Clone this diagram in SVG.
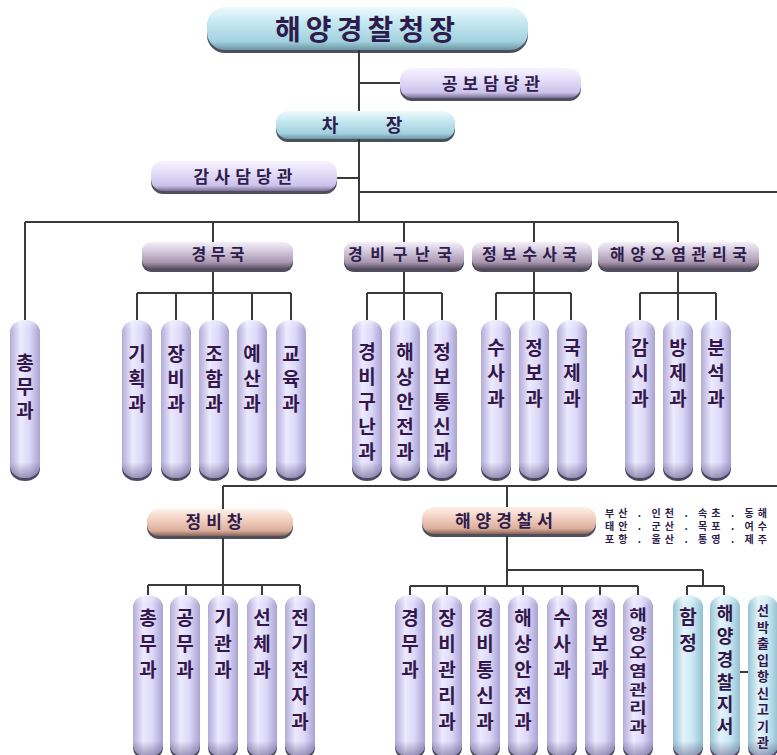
<svg xmlns="http://www.w3.org/2000/svg" width="777" height="755" viewBox="0 0 777 755">
<style>
text{font-family:"Noto Sans CJK KR","Noto Sans",sans-serif;font-weight:bold;fill:#2e1c4c}
.h{text-anchor:middle}
.c{font-size:19px;text-anchor:middle;fill:#33164a}
.sh{fill:#2f3040;opacity:.85}
.csh{fill:#3a3252;opacity:.9}
.ln{stroke:#3a3a3a;stroke-width:2;fill:none}
.cyan{fill:url(#gCyan)}
.lav{fill:url(#gLav)}
.bur{fill:url(#gBur)}
.org{fill:url(#gOr)}
.col{fill:url(#gCol)}
.colb{fill:url(#gColB)}
.shade{fill:url(#gShade)}
</style>
<defs>
<linearGradient id="gCyan" x1="0" y1="0" x2="0" y2="1">
<stop offset="0" stop-color="#eefafd"/><stop offset=".35" stop-color="#c6e8f1"/><stop offset=".8" stop-color="#a2d1df"/><stop offset="1" stop-color="#6c95a2"/>
</linearGradient>
<linearGradient id="gLav" x1="0" y1="0" x2="0" y2="1">
<stop offset="0" stop-color="#f7f4ff"/><stop offset=".4" stop-color="#e3ddf8"/><stop offset=".82" stop-color="#cbc2ea"/><stop offset="1" stop-color="#7a7098"/>
</linearGradient>
<linearGradient id="gBur" x1="0" y1="0" x2="0" y2="1">
<stop offset="0" stop-color="#f4eff7"/><stop offset=".3" stop-color="#d8cde0"/><stop offset=".75" stop-color="#a898b0"/><stop offset="1" stop-color="#5a4c60"/>
</linearGradient>
<linearGradient id="gOr" x1="0" y1="0" x2="0" y2="1">
<stop offset="0" stop-color="#fdf1ea"/><stop offset=".35" stop-color="#f4d4c5"/><stop offset=".8" stop-color="#dbae9c"/><stop offset="1" stop-color="#8a6458"/>
</linearGradient>
<linearGradient id="gCol" x1="0" y1="0" x2="1" y2="0">
<stop offset="0" stop-color="#b3abd8"/><stop offset=".35" stop-color="#eceaff"/><stop offset=".65" stop-color="#dcd8f7"/><stop offset="1" stop-color="#aaa2d2"/>
</linearGradient>
<linearGradient id="gColB" x1="0" y1="0" x2="1" y2="0">
<stop offset="0" stop-color="#96c4d4"/><stop offset=".35" stop-color="#e2f4fb"/><stop offset=".65" stop-color="#cbe8f3"/><stop offset="1" stop-color="#94c0d0"/>
</linearGradient>
<linearGradient id="gShade" x1="0" y1="0" x2="0" y2="1">
<stop offset="0" stop-color="#ffffff" stop-opacity=".35"/><stop offset=".06" stop-color="#ffffff" stop-opacity="0"/><stop offset=".9" stop-color="#3a3060" stop-opacity="0"/><stop offset="1" stop-color="#3a3060" stop-opacity=".45"/>
</linearGradient>
</defs>

<g id="connectors">
<path class="ln" d="M359 50V222M359 83H400M337 178H359M359 192H777M25 222H678"/>
<path class="ln" d="M25 222V320M213 222V242M404 222V242M534 222V242M678 222V242"/>
<path class="ln" d="M213 272V320M137 293H291M137 293V320M176 293V320M252 293V320M291 293V320"/>
<path class="ln" d="M404 272V320M367 293H442M367 293V320M442 293V320"/>
<path class="ln" d="M534 272V320M496 293H571M496 293V320M571 293V320"/>
<path class="ln" d="M678 272V320M640 293H716M640 293V320M716 293V320"/>
<path class="ln" d="M223 486H777M223 486V509M507 486V507"/>
<path class="ln" d="M223 538V595M148 585H300M148 585V595M186 585V595M262 585V595M300 585V595"/>
<path class="ln" d="M507 536V586M507 570H703M703 570V586M410 586H638M410 586V595M447 586V595M485 586V595M523 586V595M562 586V595M600 586V595M638 586V595"/>
<path class="ln" d="M687 586H724M687 586V595M724 586V595M740 672H748"/>
</g>

<g id="n-chief"><rect class="sh" x="207" y="10" width="321" height="43" rx="18"/><rect class="cyan" x="207" y="7" width="321" height="43" rx="18"/>
<text class="h" x="365" y="40" font-size="28" textLength="180" lengthAdjust="spacing" fill="#2c2a5c">해양경찰청장</text></g>
<g id="n-pr"><rect class="sh" x="400" y="71" width="181" height="30" rx="12"/><rect class="lav" x="400" y="68" width="181" height="30" rx="12"/>
<text class="h" x="491" y="89.5" font-size="17" textLength="98" lengthAdjust="spacing">공보담당관</text></g>
<g id="n-deputy"><rect class="sh" x="276" y="114" width="179" height="28" rx="12"/><rect class="cyan" x="276" y="111" width="179" height="28" rx="12"/>
<text class="h" font-size="18" y="132"><tspan x="330">차</tspan><tspan x="394">장</tspan></text></g>
<g id="n-audit"><rect class="sh" x="151" y="164" width="186" height="30" rx="12"/><rect class="lav" x="151" y="161" width="186" height="30" rx="12"/>
<text class="h" x="243" y="183" font-size="17" textLength="99" lengthAdjust="spacing">감사담당관</text></g>

<g id="n-gyeongmu"><rect class="sh" x="142" y="245" width="151" height="27" rx="9"/><rect class="bur" x="142" y="242" width="151" height="27" rx="9"/>
<text class="h" x="218" y="260" font-size="16" textLength="53" lengthAdjust="spacing">경무국</text></g>
<g id="n-rescue"><rect class="sh" x="344" y="245" width="120" height="27" rx="9"/><rect class="bur" x="344" y="242" width="120" height="27" rx="9"/>
<text class="h" x="400" y="260" font-size="16" textLength="104" lengthAdjust="spacing">경비구난국</text></g>
<g id="n-intel"><rect class="sh" x="472" y="245" width="120" height="27" rx="9"/><rect class="bur" x="472" y="242" width="120" height="27" rx="9"/>
<text class="h" x="529.5" y="260" font-size="16" textLength="95" lengthAdjust="spacing">정보수사국</text></g>
<g id="n-pollution"><rect class="sh" x="598" y="245" width="161" height="27" rx="9"/><rect class="bur" x="598" y="242" width="161" height="27" rx="9"/>
<text class="h" x="678.5" y="260" font-size="16" textLength="137" lengthAdjust="spacing">해양오염관리국</text></g>

<g id="n-chongmu"><rect class="csh" x="10" y="323" width="30" height="158" rx="15" ry="12"/><rect class="col" x="10" y="320" width="30" height="158" rx="15" ry="12"/><rect class="shade" x="10" y="320" width="30" height="158" rx="15" ry="12"/>
<text class="c"><tspan x="25" y="370">총</tspan><tspan x="25" y="394">무</tspan><tspan x="25" y="418">과</tspan></text></g>

<g id="n-gihoek"><rect class="csh" x="122" y="323" width="30" height="158" rx="15" ry="12"/><rect class="col" x="122" y="320" width="30" height="158" rx="15" ry="12"/><rect class="shade" x="122" y="320" width="30" height="158" rx="15" ry="12"/>
<text class="c"><tspan x="137" y="361">기</tspan><tspan x="137" y="386">획</tspan><tspan x="137" y="411">과</tspan></text></g>
<g id="n-jangbi"><rect class="csh" x="161" y="323" width="30" height="158" rx="15" ry="12"/><rect class="col" x="161" y="320" width="30" height="158" rx="15" ry="12"/><rect class="shade" x="161" y="320" width="30" height="158" rx="15" ry="12"/>
<text class="c"><tspan x="176" y="361">장</tspan><tspan x="176" y="386">비</tspan><tspan x="176" y="411">과</tspan></text></g>
<g id="n-joham"><rect class="csh" x="199" y="323" width="30" height="158" rx="15" ry="12"/><rect class="col" x="199" y="320" width="30" height="158" rx="15" ry="12"/><rect class="shade" x="199" y="320" width="30" height="158" rx="15" ry="12"/>
<text class="c"><tspan x="214" y="361">조</tspan><tspan x="214" y="386">함</tspan><tspan x="214" y="411">과</tspan></text></g>
<g id="n-yesan"><rect class="csh" x="237" y="323" width="30" height="158" rx="15" ry="12"/><rect class="col" x="237" y="320" width="30" height="158" rx="15" ry="12"/><rect class="shade" x="237" y="320" width="30" height="158" rx="15" ry="12"/>
<text class="c"><tspan x="252" y="361">예</tspan><tspan x="252" y="386">산</tspan><tspan x="252" y="411">과</tspan></text></g>
<g id="n-gyoyuk"><rect class="csh" x="276" y="323" width="30" height="158" rx="15" ry="12"/><rect class="col" x="276" y="320" width="30" height="158" rx="15" ry="12"/><rect class="shade" x="276" y="320" width="30" height="158" rx="15" ry="12"/>
<text class="c"><tspan x="291" y="361">교</tspan><tspan x="291" y="386">육</tspan><tspan x="291" y="411">과</tspan></text></g>

<g id="n-gbgn"><rect class="csh" x="352" y="323" width="30" height="158" rx="15" ry="12"/><rect class="col" x="352" y="320" width="30" height="158" rx="15" ry="12"/><rect class="shade" x="352" y="320" width="30" height="158" rx="15" ry="12"/>
<text class="c"><tspan x="367" y="359">경</tspan><tspan x="367" y="384">비</tspan><tspan x="367" y="409">구</tspan><tspan x="367" y="434">난</tspan><tspan x="367" y="459">과</tspan></text></g>
<g id="n-hsaj"><rect class="csh" x="390" y="323" width="30" height="158" rx="15" ry="12"/><rect class="col" x="390" y="320" width="30" height="158" rx="15" ry="12"/><rect class="shade" x="390" y="320" width="30" height="158" rx="15" ry="12"/>
<text class="c"><tspan x="405" y="359">해</tspan><tspan x="405" y="384">상</tspan><tspan x="405" y="409">안</tspan><tspan x="405" y="434">전</tspan><tspan x="405" y="459">과</tspan></text></g>
<g id="n-jbts"><rect class="csh" x="427" y="323" width="30" height="158" rx="15" ry="12"/><rect class="col" x="427" y="320" width="30" height="158" rx="15" ry="12"/><rect class="shade" x="427" y="320" width="30" height="158" rx="15" ry="12"/>
<text class="c"><tspan x="442" y="359">정</tspan><tspan x="442" y="384">보</tspan><tspan x="442" y="409">통</tspan><tspan x="442" y="434">신</tspan><tspan x="442" y="459">과</tspan></text></g>

<g id="n-susa"><rect class="csh" x="481" y="323" width="30" height="158" rx="15" ry="12"/><rect class="col" x="481" y="320" width="30" height="158" rx="15" ry="12"/><rect class="shade" x="481" y="320" width="30" height="158" rx="15" ry="12"/>
<text class="c"><tspan x="496" y="355">수</tspan><tspan x="496" y="380">사</tspan><tspan x="496" y="406">과</tspan></text></g>
<g id="n-jeongbo"><rect class="csh" x="519" y="323" width="30" height="158" rx="15" ry="12"/><rect class="col" x="519" y="320" width="30" height="158" rx="15" ry="12"/><rect class="shade" x="519" y="320" width="30" height="158" rx="15" ry="12"/>
<text class="c"><tspan x="534" y="355">정</tspan><tspan x="534" y="380">보</tspan><tspan x="534" y="406">과</tspan></text></g>
<g id="n-gukje"><rect class="csh" x="557" y="323" width="30" height="158" rx="15" ry="12"/><rect class="col" x="557" y="320" width="30" height="158" rx="15" ry="12"/><rect class="shade" x="557" y="320" width="30" height="158" rx="15" ry="12"/>
<text class="c"><tspan x="572" y="355">국</tspan><tspan x="572" y="380">제</tspan><tspan x="572" y="406">과</tspan></text></g>

<g id="n-gamsi"><rect class="csh" x="625" y="323" width="30" height="158" rx="15" ry="12"/><rect class="col" x="625" y="320" width="30" height="158" rx="15" ry="12"/><rect class="shade" x="625" y="320" width="30" height="158" rx="15" ry="12"/>
<text class="c"><tspan x="640" y="355">감</tspan><tspan x="640" y="380">시</tspan><tspan x="640" y="406">과</tspan></text></g>
<g id="n-bangje"><rect class="csh" x="663" y="323" width="30" height="158" rx="15" ry="12"/><rect class="col" x="663" y="320" width="30" height="158" rx="15" ry="12"/><rect class="shade" x="663" y="320" width="30" height="158" rx="15" ry="12"/>
<text class="c"><tspan x="678" y="355">방</tspan><tspan x="678" y="380">제</tspan><tspan x="678" y="406">과</tspan></text></g>
<g id="n-bunseok"><rect class="csh" x="701" y="323" width="30" height="158" rx="15" ry="12"/><rect class="col" x="701" y="320" width="30" height="158" rx="15" ry="12"/><rect class="shade" x="701" y="320" width="30" height="158" rx="15" ry="12"/>
<text class="c"><tspan x="716" y="355">분</tspan><tspan x="716" y="380">석</tspan><tspan x="716" y="406">과</tspan></text></g>

<g id="n-depot"><rect class="sh" x="147" y="512" width="146" height="27" rx="12"/><rect class="org" x="147" y="509" width="146" height="27" rx="12"/>
<text class="h" x="214" y="528" font-size="17" textLength="57" lengthAdjust="spacing">정비창</text></g>
<g id="n-station"><rect class="sh" x="422" y="510" width="174" height="27" rx="12"/><rect class="org" x="422" y="507" width="174" height="27" rx="12"/>
<text class="h" x="504" y="527" font-size="17" textLength="98" lengthAdjust="spacing">해양경찰서</text></g>
<g id="cities" font-size="10">
<text x="605" y="517" textLength="162" lengthAdjust="spacing">부산 . 인천 . 속초 . 동해</text>
<text x="605" y="530" textLength="162" lengthAdjust="spacing">태안 . 군산 . 목포 . 여수</text>
<text x="605" y="543" textLength="162" lengthAdjust="spacing">포항 . 울산 . 통영 . 제주</text>
</g>

<g id="n-d-chongmu"><rect class="csh" x="133" y="598" width="30" height="162" rx="15" ry="12"/><rect class="col" x="133" y="595" width="30" height="162" rx="15" ry="12"/><rect class="shade" x="133" y="595" width="30" height="162" rx="15" ry="12"/>
<text class="c"><tspan x="148" y="625">총</tspan><tspan x="148" y="651">무</tspan><tspan x="148" y="677">과</tspan></text></g>
<g id="n-d-gongmu"><rect class="csh" x="170" y="598" width="30" height="162" rx="15" ry="12"/><rect class="col" x="170" y="595" width="30" height="162" rx="15" ry="12"/><rect class="shade" x="170" y="595" width="30" height="162" rx="15" ry="12"/>
<text class="c"><tspan x="185" y="625">공</tspan><tspan x="185" y="651">무</tspan><tspan x="185" y="677">과</tspan></text></g>
<g id="n-d-gigwan"><rect class="csh" x="208" y="598" width="30" height="162" rx="15" ry="12"/><rect class="col" x="208" y="595" width="30" height="162" rx="15" ry="12"/><rect class="shade" x="208" y="595" width="30" height="162" rx="15" ry="12"/>
<text class="c"><tspan x="223" y="625">기</tspan><tspan x="223" y="651">관</tspan><tspan x="223" y="677">과</tspan></text></g>
<g id="n-d-seonche"><rect class="csh" x="247" y="598" width="30" height="162" rx="15" ry="12"/><rect class="col" x="247" y="595" width="30" height="162" rx="15" ry="12"/><rect class="shade" x="247" y="595" width="30" height="162" rx="15" ry="12"/>
<text class="c"><tspan x="262" y="625">선</tspan><tspan x="262" y="651">체</tspan><tspan x="262" y="677">과</tspan></text></g>
<g id="n-d-elec"><rect class="csh" x="285" y="598" width="30" height="162" rx="15" ry="12"/><rect class="col" x="285" y="595" width="30" height="162" rx="15" ry="12"/><rect class="shade" x="285" y="595" width="30" height="162" rx="15" ry="12"/>
<text class="c"><tspan x="300" y="625">전</tspan><tspan x="300" y="651">기</tspan><tspan x="300" y="677">전</tspan><tspan x="300" y="703">자</tspan><tspan x="300" y="729">과</tspan></text></g>

<g id="n-s-gyeongmu"><rect class="csh" x="395" y="598" width="30" height="162" rx="15" ry="12"/><rect class="col" x="395" y="595" width="30" height="162" rx="15" ry="12"/><rect class="shade" x="395" y="595" width="30" height="162" rx="15" ry="12"/>
<text class="c"><tspan x="410" y="625">경</tspan><tspan x="410" y="651">무</tspan><tspan x="410" y="677">과</tspan></text></g>
<g id="n-s-jangbi"><rect class="csh" x="432" y="598" width="30" height="162" rx="15" ry="12"/><rect class="col" x="432" y="595" width="30" height="162" rx="15" ry="12"/><rect class="shade" x="432" y="595" width="30" height="162" rx="15" ry="12"/>
<text class="c"><tspan x="447" y="625">장</tspan><tspan x="447" y="651">비</tspan><tspan x="447" y="677">관</tspan><tspan x="447" y="703">리</tspan><tspan x="447" y="729">과</tspan></text></g>
<g id="n-s-gbts"><rect class="csh" x="470" y="598" width="30" height="162" rx="15" ry="12"/><rect class="col" x="470" y="595" width="30" height="162" rx="15" ry="12"/><rect class="shade" x="470" y="595" width="30" height="162" rx="15" ry="12"/>
<text class="c"><tspan x="485" y="625">경</tspan><tspan x="485" y="651">비</tspan><tspan x="485" y="677">통</tspan><tspan x="485" y="703">신</tspan><tspan x="485" y="729">과</tspan></text></g>
<g id="n-s-hsaj"><rect class="csh" x="508" y="598" width="30" height="162" rx="15" ry="12"/><rect class="col" x="508" y="595" width="30" height="162" rx="15" ry="12"/><rect class="shade" x="508" y="595" width="30" height="162" rx="15" ry="12"/>
<text class="c"><tspan x="523" y="625">해</tspan><tspan x="523" y="651">상</tspan><tspan x="523" y="677">안</tspan><tspan x="523" y="703">전</tspan><tspan x="523" y="729">과</tspan></text></g>
<g id="n-s-susa"><rect class="csh" x="547" y="598" width="30" height="162" rx="15" ry="12"/><rect class="col" x="547" y="595" width="30" height="162" rx="15" ry="12"/><rect class="shade" x="547" y="595" width="30" height="162" rx="15" ry="12"/>
<text class="c"><tspan x="562" y="625">수</tspan><tspan x="562" y="651">사</tspan><tspan x="562" y="677">과</tspan></text></g>
<g id="n-s-jeongbo"><rect class="csh" x="585" y="598" width="30" height="162" rx="15" ry="12"/><rect class="col" x="585" y="595" width="30" height="162" rx="15" ry="12"/><rect class="shade" x="585" y="595" width="30" height="162" rx="15" ry="12"/>
<text class="c"><tspan x="600" y="625">정</tspan><tspan x="600" y="651">보</tspan><tspan x="600" y="677">과</tspan></text></g>
<g id="n-s-pollution"><rect class="csh" x="623" y="598" width="30" height="162" rx="15" ry="12"/><rect class="col" x="623" y="595" width="30" height="162" rx="15" ry="12"/><rect class="shade" x="623" y="595" width="30" height="162" rx="15" ry="12"/>
<text class="c" transform="scale(1,0.75)"><tspan x="638" y="827">해</tspan><tspan x="638" y="852">양</tspan><tspan x="638" y="877">오</tspan><tspan x="638" y="902">염</tspan><tspan x="638" y="927">관</tspan><tspan x="638" y="951">리</tspan><tspan x="638" y="976">과</tspan></text></g>

<g id="n-ship"><rect class="csh" x="673" y="598" width="30" height="162" rx="15" ry="12"/><rect class="colb" x="673" y="595" width="30" height="162" rx="15" ry="12"/><rect class="shade" x="673" y="595" width="30" height="162" rx="15" ry="12"/>
<text class="c"><tspan x="688" y="624">함</tspan><tspan x="688" y="650">정</tspan></text></g>
<g id="n-branch"><rect class="csh" x="710" y="598" width="30" height="162" rx="15" ry="12"/><rect class="colb" x="710" y="595" width="30" height="162" rx="15" ry="12"/><rect class="shade" x="710" y="595" width="30" height="162" rx="15" ry="12"/>
<text class="c" style="font-size:18px"><tspan x="725" y="620">해</tspan><tspan x="725" y="643">양</tspan><tspan x="725" y="666">경</tspan><tspan x="725" y="689">찰</tspan><tspan x="725" y="711">지</tspan><tspan x="725" y="733">서</tspan></text></g>
<g id="n-port"><rect class="csh" x="748" y="598" width="30" height="162" rx="15" ry="12"/><rect class="colb" x="748" y="595" width="30" height="162" rx="15" ry="12"/><rect class="shade" x="748" y="595" width="30" height="162" rx="15" ry="12"/>
<text class="c" style="font-size:13px"><tspan x="763" y="615">선</tspan><tspan x="763" y="631.5">박</tspan><tspan x="763" y="648">출</tspan><tspan x="763" y="664.5">입</tspan><tspan x="763" y="681">항</tspan><tspan x="763" y="697.5">신</tspan><tspan x="763" y="714">고</tspan><tspan x="763" y="730.5">기</tspan><tspan x="763" y="747">관</tspan></text></g>
</svg>
